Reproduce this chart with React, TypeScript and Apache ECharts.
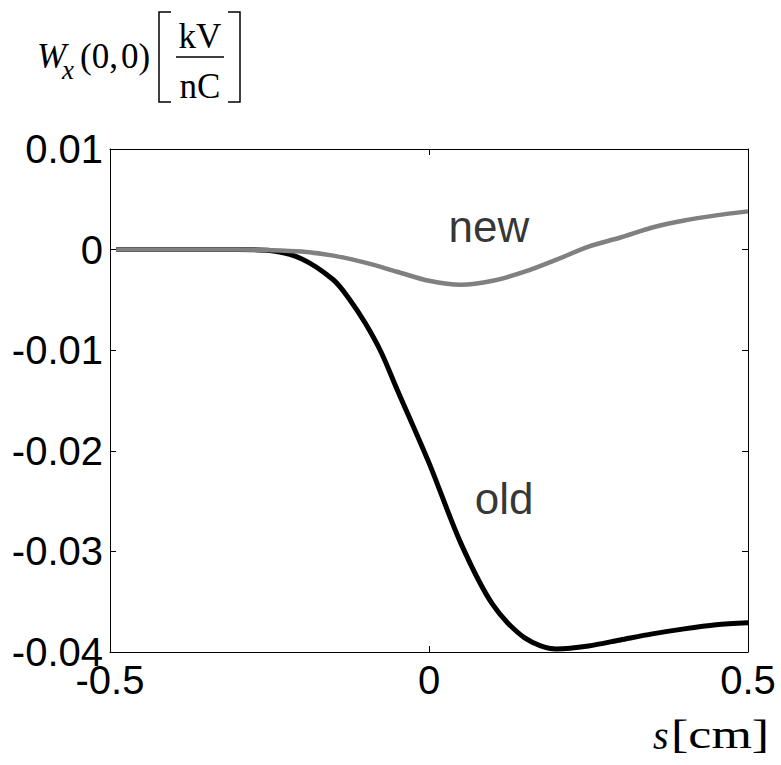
import React, { useEffect, useRef } from "react";
import * as echarts from "echarts";

const sOld = [-0.49, -0.3, -0.25, -0.2, -0.15, -0.125, -0.1, -0.075, -0.05, 0, 0.05, 0.1, 0.15, 0.2, 0.25, 0.3, 0.35, 0.4, 0.45, 0.5];
const wOld = [0, 0, -0.0001, -0.0009, -0.003, -0.0049, -0.0073, -0.0102, -0.0139, -0.0212, -0.0292, -0.0353, -0.0386, -0.0397, -0.0394, -0.0388, -0.0382, -0.0377, -0.0373, -0.0371];

const sNew = [-0.49, -0.3, -0.25, -0.2, -0.15, -0.1, -0.05, 0, 0.05, 0.1, 0.15, 0.2, 0.25, 0.3, 0.35, 0.4, 0.45, 0.5];
const wNew = [0, 0, -0.00005, -0.0002, -0.0006, -0.0013, -0.0022, -0.0031, -0.0035, -0.0031, -0.0022, -0.001, 0.0003, 0.0012, 0.0022, 0.0029, 0.0034, 0.0038];

const xTicks = [-0.5, 0, 0.5];
const xTickLabels = ["-0.5", "0", "0.5"];
const yTicks = [0.01, 0, -0.01, -0.02, -0.03, -0.04];
const yTickLabels = ["0.01", "0", "-0.01", "-0.02", "-0.03", "-0.04"];

const annotations = [
  { text: "new", s: 0.094, w: 0.00225 },
  { text: "old", s: 0.1176, w: -0.0247 },
];

function lookup(ticks: number[], labels: string[], v: number) {
  for (let i = 0; i < ticks.length; i++) if (Math.abs(ticks[i] - v) < 1e-9) return labels[i];
  return "";
}

export default function App() {
  const ref = useRef<HTMLDivElement>(null);
  useEffect(() => {
    document.body.style.margin = "0";
    const chart = echarts.init(ref.current!, null, { renderer: "svg" });
    const tickFont = { fontFamily: "Liberation Sans, Arial, sans-serif", fontSize: 40, color: "#000" };
    const serif = "Liberation Serif, Times New Roman, serif";
    const xAxisBase = {
      type: "value" as const,
      min: -0.5,
      max: 0.5,
      interval: 0.5,
      splitLine: { show: false },
      axisLine: { show: true, onZero: false, lineStyle: { color: "#000", width: 1 } },
      axisTick: { show: true, inside: true, length: 6, lineStyle: { color: "#000" } },
    };
    const yAxisBase = {
      type: "value" as const,
      min: -0.04,
      max: 0.01,
      interval: 0.01,
      splitLine: { show: false },
      axisLine: { show: true, onZero: false, lineStyle: { color: "#000", width: 1 } },
      axisTick: { show: true, inside: true, length: 6, lineStyle: { color: "#000" } },
    };
    chart.setOption({
      animation: false,
      backgroundColor: "#fff",
      grid: { left: 110, top: 149, width: 638, height: 503, containLabel: false, outerBoundsMode: "none" },
      xAxis: [
        {
          ...xAxisBase,
          position: "bottom",
          axisLabel: { ...tickFont, margin: 8, formatter: (v: number) => lookup(xTicks, xTickLabels, v) },
        },
        { ...xAxisBase, position: "top", axisLabel: { show: false } },
      ],
      yAxis: [
        {
          ...yAxisBase,
          position: "left",
          axisLabel: { ...tickFont, margin: 7, formatter: (v: number) => lookup(yTicks, yTickLabels, v) },
        },
        { ...yAxisBase, position: "right", axisLabel: { show: false } },
      ],
      series: [
        {
          name: "old",
          type: "line",
          data: sOld.map((s, i) => [s, wOld[i]]),
          showSymbol: false,
          smooth: 0.3,
          lineStyle: { color: "#000", width: 5 },
          z: 2,
        },
        {
          name: "new",
          type: "line",
          data: sNew.map((s, i) => [s, wNew[i]]),
          showSymbol: false,
          smooth: 0.3,
          lineStyle: { color: "#808080", width: 4.5 },
          z: 3,
        },
        {
          name: "labels",
          type: "scatter",
          symbolSize: 0,
          data: annotations.map((a) => ({ value: [a.s, a.w], name: a.text })),
          label: {
            show: true,
            position: "inside",
            formatter: (p: any) => p.name,
            fontFamily: "Liberation Sans, Arial, sans-serif",
            fontSize: 44,
            color: "#000",
          },
          silent: true,
          z: 4,
        },
      ],
      graphic: [
        { type: "text", x: 37, y: 56, style: { text: "W", font: `italic 35px ${serif}`, fill: "#000", verticalAlign: "middle" } },
        { type: "text", x: 62, y: 70, style: { text: "x", font: `italic 27px ${serif}`, fill: "#000", verticalAlign: "middle" } },
        { type: "text", x: 80, y: 56, style: { text: "(0,", font: `35px ${serif}`, fill: "#000", verticalAlign: "middle" } },
        { type: "text", x: 121, y: 56, style: { text: "0)", font: `35px ${serif}`, fill: "#000", verticalAlign: "middle" } },
        { type: "polyline", shape: { points: [[171, 12], [159, 12], [159, 102], [171, 102]] }, style: { stroke: "#000", lineWidth: 1.5, fill: "none" } },
        { type: "polyline", shape: { points: [[228, 12], [240, 12], [240, 102], [228, 102]] }, style: { stroke: "#000", lineWidth: 1.5, fill: "none" } },
        { type: "text", x: 200, y: 36, style: { text: "kV", font: `35px ${serif}`, fill: "#000", align: "center", verticalAlign: "middle" } },
        { type: "line", shape: { x1: 176, y1: 57, x2: 224, y2: 57 }, style: { stroke: "#000", lineWidth: 1.5 } },
        { type: "text", x: 200, y: 86, style: { text: "nC", font: `35px ${serif}`, fill: "#000", align: "center", verticalAlign: "middle" } },
        { type: "text", x: 653, y: 735, style: { text: "s", font: `italic 40px ${serif}`, fill: "#000", verticalAlign: "middle" } },
        { type: "text", x: 671, y: 735, scaleX: 1.3, style: { text: "[cm]", font: `40px ${serif}`, fill: "#000", verticalAlign: "middle" } },
      ],
    });
    return () => chart.dispose();
  }, []);
  return <div ref={ref} style={{ width: 781, height: 765 }} />;
}
